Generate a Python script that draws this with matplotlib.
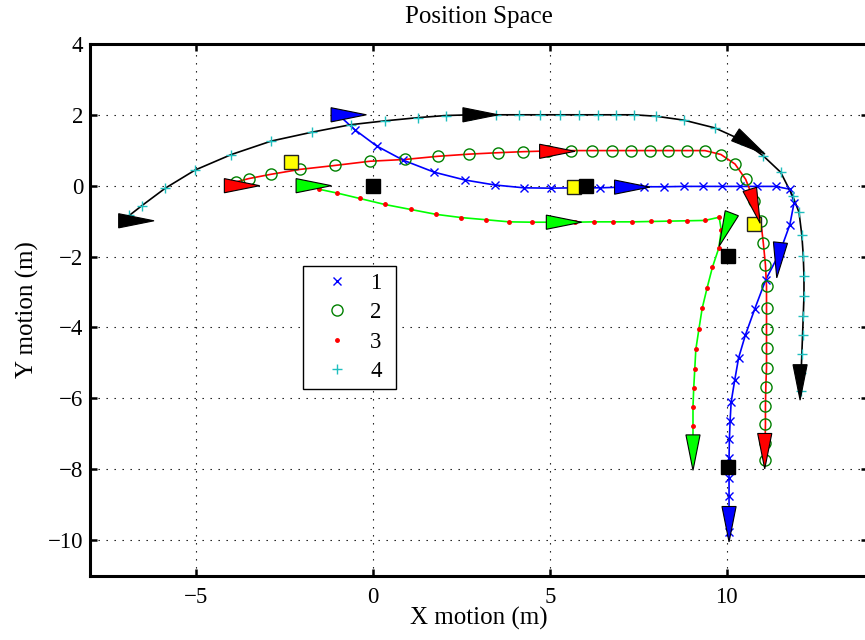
import matplotlib
matplotlib.use('Agg')
import matplotlib.pyplot as plt
import numpy as np
from matplotlib.patches import Polygon

plt.rcParams['font.family'] = ['Liberation Serif', 'DejaVu Serif']

# trajectory 1: blue line, 'x' markers
traj1_x = [-0.52, 0.10, 0.85, 1.73, 2.60, 3.44, 4.27, 5.02, 5.72, 6.42, 7.05, 7.67,
           8.23, 8.79, 9.32, 9.86, 10.38, 10.87, 11.39, 11.79, 11.91, 11.79, 11.50,
           11.11, 10.80, 10.53, 10.34, 10.23, 10.13, 10.10, 10.08, 10.07, 10.07,
           10.07, 10.07, 10.07]
traj1_y = [1.58, 1.12, 0.72, 0.38, 0.16, 0.02, -0.06, -0.07, -0.06, -0.06, -0.04, -0.03,
           -0.03, -0.02, -0.02, -0.02, -0.02, -0.02, -0.02, -0.10, -0.48, -1.10, -1.90,
           -2.65, -3.47, -4.22, -4.86, -5.49, -6.10, -6.64, -7.16, -7.69, -8.25,
           -8.74, -9.25, -9.76]
traj1_start = (-0.95, 1.97)
traj1_end = (10.07, -9.95)

# trajectory 2: red line, 'o' markers
traj2_x = [-3.87, -3.52, -2.90, -2.07, -1.09, -0.09, 0.90, 1.84, 2.71, 3.52, 4.25, 4.95,
           5.59, 6.18, 6.77, 7.31, 7.83, 8.35, 8.87, 9.39, 9.84, 10.24, 10.54, 10.78,
           10.97, 11.04, 11.10, 11.13, 11.13, 11.13, 11.13, 11.13, 11.11, 11.10, 11.10,
           11.09, 11.08]
traj2_y = [0.11, 0.20, 0.32, 0.46, 0.57, 0.69, 0.74, 0.83, 0.89, 0.93, 0.96, 0.98,
           0.99, 0.99, 0.99, 0.99, 0.99, 0.99, 0.99, 0.99, 0.88, 0.61, 0.18, -0.42,
           -1.01, -1.62, -2.23, -2.84, -3.46, -4.03, -4.59, -5.15, -5.69, -6.22, -6.73,
           -7.25, -7.75]
traj2_start = (-3.95, 0.05)
traj2_end = (11.08, -7.90)

# trajectory 3: green line, '.' markers
traj3_x = [-1.53, -1.01, -0.38, 0.33, 1.06, 1.79, 2.50, 3.19, 3.85, 4.50, 5.12, 5.70,
           6.25, 6.79, 7.33, 7.85, 8.37, 8.87, 9.39, 9.79, 9.85, 9.78, 9.60, 9.45,
           9.31, 9.22, 9.13, 9.10, 9.07, 9.05, 9.05, 9.05]
traj3_y = [-0.10, -0.21, -0.36, -0.53, -0.67, -0.81, -0.90, -0.96, -1.02, -1.03, -1.03,
           -1.03, -1.02, -1.02, -1.02, -1.01, -1.00, -0.99, -0.98, -0.89, -1.25, -1.76,
           -2.30, -2.88, -3.46, -4.03, -4.62, -5.18, -5.72, -6.24, -6.77, -7.30]
traj3_start = (-1.70, 0.00)
traj3_end = (9.05, -7.50)

# trajectory 4: black line, '+' markers
traj4_x = [-6.90, -6.54, -5.88, -5.04, -4.01, -2.88, -1.73, -0.64, 0.34, 1.27, 2.06,
           2.78, 3.49, 4.13, 4.73, 5.30, 5.83, 6.36, 6.87, 7.38, 8.00, 8.79, 9.67,
           10.40, 11.04, 11.53, 11.87, 12.05, 12.13, 12.17, 12.19, 12.19, 12.17,
           12.15, 12.13, 12.11, 12.10]
traj4_y = [-0.84, -0.56, -0.07, 0.44, 0.88, 1.26, 1.51, 1.72, 1.83, 1.92, 1.98, 2.00,
           2.00, 2.00, 2.00, 2.00, 2.00, 2.00, 2.00, 2.00, 1.96, 1.85, 1.63, 1.30,
           0.84, 0.38, -0.29, -0.75, -1.40, -1.97, -2.56, -3.12, -3.67, -4.22,
           -4.74, -5.27, -5.79]
traj4_start = (-6.95, -0.95)
traj4_end = (12.08, -5.95)

# heading arrows (tip position, heading in degrees)
arrow_x = [-0.19, 7.83, 11.42, 10.07,
           -3.21, 5.71, 10.95, 11.08,
           -1.18, 5.90, 9.79, 9.05,
           -6.20, 3.54, 11.09, 12.08]
arrow_y = [2.00, -0.04, -2.60, -10.05,
           0.00, 0.97, -1.06, -7.99,
           0.00, -1.03, -1.71, -8.03,
           -0.99, 2.00, 0.89, -6.05]
arrow_heading = [0, 0, -96, -90,
                 0, 0, -73, -90,
                 0, 0, -111, -90,
                 0, 0, -33, -90]
arrow_color = ['#0000ff'] * 4 + ['#ff0000'] * 4 + ['#00ff00'] * 4 + ['#000000'] * 4

# waypoints
goal_x = [0.00, 6.02, 10.05, 10.05]
goal_y = [0.00, 0.00, -1.97, -7.94]
mid_x = [-2.33, 5.69, 10.78]
mid_y = [0.67, -0.03, -1.08]

labels = ['1', '2', '3', '4']


def full_path(xs, ys, start, end):
    return [start[0]] + xs + [end[0]], [start[1]] + ys + [end[1]]


def triangle(tx, ty, heading, length=1.0, width=0.40):
    a = np.deg2rad(heading)
    d = np.array([np.cos(a), np.sin(a)])
    n = np.array([-d[1], d[0]])
    tip = np.array([tx, ty])
    base = tip - length * d
    return [tip, base + 0.5 * width * n, base - 0.5 * width * n]


fig = plt.figure(figsize=(8.65, 6.4), dpi=100)
ax = fig.add_axes([0.1045, 0.1006, 0.8989, 0.8308])

lx, ly = full_path(traj1_x, traj1_y, traj1_start, traj1_end)
ax.plot(lx, ly, color='#0000ff', lw=1.2, zorder=3)
lx, ly = full_path(traj2_x, traj2_y, traj2_start, traj2_end)
ax.plot(lx, ly, color='#ff0000', lw=1.2, zorder=3)
lx, ly = full_path(traj3_x, traj3_y, traj3_start, traj3_end)
ax.plot(lx, ly, color='#00ff00', lw=1.2, zorder=3)
lx, ly = full_path(traj4_x, traj4_y, traj4_start, traj4_end)
ax.plot(lx, ly, color='k', lw=1.2, zorder=3)

h1, = ax.plot(traj1_x, traj1_y, 'x', color='#0000ff', ms=5.5, mew=1.0, zorder=4)
h2, = ax.plot(traj2_x, traj2_y, 'o', mfc='none', mec='#008000', ms=8, mew=1.0, zorder=4)
h3, = ax.plot(traj3_x, traj3_y, '.', color='#ff0000', ms=5, zorder=4)
h4, = ax.plot(traj4_x, traj4_y, '+', color='#1fbfbf', ms=7, mew=1.0, zorder=4)

ax.plot(mid_x, mid_y, 's', mfc='#ffff00', mec='#222222', ms=10.5, mew=1.0, zorder=5)
ax.plot(goal_x, goal_y, 's', mfc='k', mec='k', ms=10.5, mew=1.0, zorder=5)

for tx, ty, hd, c in zip(arrow_x, arrow_y, arrow_heading, arrow_color):
    ax.add_patch(Polygon(triangle(tx, ty, hd), closed=True, facecolor=c,
                         edgecolor='k', lw=0.8, zorder=6))

ax.set_xlim(-8, 14)
ax.set_ylim(-11, 4)
ax.set_xticks([-5, 0, 5, 10])
ax.set_yticks(np.arange(-10, 5, 2))

ax.grid(True, color='k', linestyle=(0, (1.2, 6)), lw=0.8)
ax.set_axisbelow(True)
for s in ax.spines.values():
    s.set_linewidth(2.2)
ax.tick_params(direction='in', length=5, width=1.8, labelsize=16.5,
               top=True, right=True)
ax.tick_params(axis='x', pad=8.5)
ax.tick_params(axis='y', pad=5)

ax.set_title('Position Space', fontsize=18, pad=14.8)
ax.set_xlabel('X motion (m)', fontsize=18)
ax.set_ylabel('Y motion (m)', fontsize=18)
ax.xaxis.set_label_coords(0.5, -0.058)
ax.yaxis.set_label_coords(-0.066, 0.5)

leg = ax.legend([h1, h2, h3, h4], labels, loc='upper left',
                bbox_to_anchor=(0.2734, 0.3823, 0.1196, 0.2), mode='expand',
                borderaxespad=0, borderpad=0.29, handlelength=2.36,
                handletextpad=0.275, labelspacing=0.37, fontsize=16.5,
                fancybox=False, framealpha=1)
leg.get_frame().set_edgecolor('k')
leg.get_frame().set_linewidth(1.0)
leg.set_zorder(7)

fig.savefig('out.png', dpi=100)
